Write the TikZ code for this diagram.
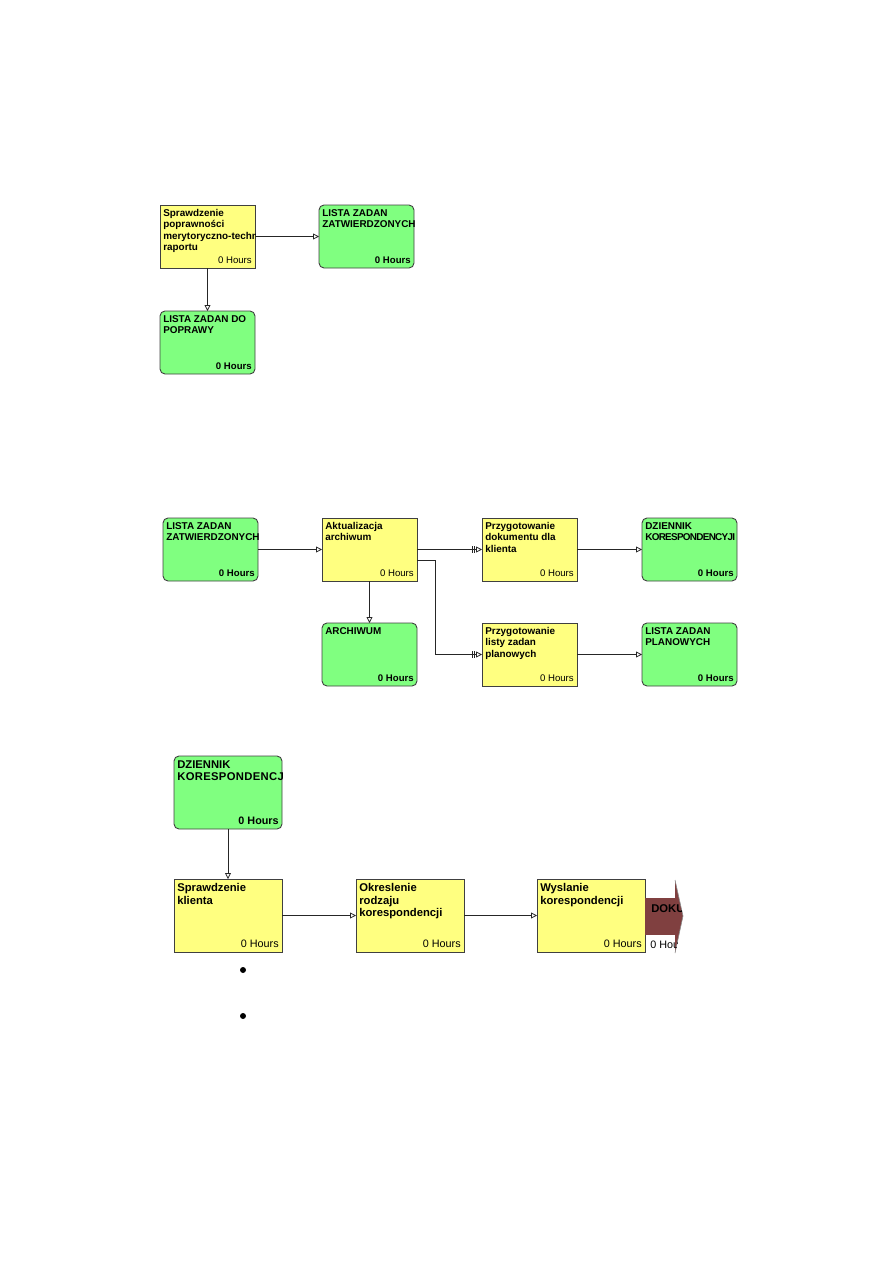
\documentclass[tikz,border=0pt]{standalone}
\usepackage{fontspec}
\setmainfont{Liberation Sans}
\usetikzlibrary{arrows.meta,calc}
\definecolor{TaskClr}{rgb}{1,1,0.5}
\definecolor{DataClr}{rgb}{0.5,1,0.5}
\definecolor{FrameClr}{rgb}{0.25,0.25,0.25}
\definecolor{OutClr}{rgb}{0.5,0.25,0.25}
\def\px{0.6667pt}

\newcommand\DrawTask[5]{%
  \node[#2] (#1) at (#3) {};
  \begin{scope}
    \clip (#1.north west) rectangle (#1.south east);
    \node[TitleTxt] (#1T) at ([shift={(3,4)}]#1.north west) {#4};
    \node[HoursTxt] (#1H) at ([shift={(-3,-4)}]#1.south east) {#5};
  \end{scope}}

\begin{document}
\begin{tikzpicture}[x=\px,y=-\px,
  Task/.style={draw=FrameClr,line width=0.6pt,fill=TaskClr,anchor=north west,
    inner sep=0pt,outer sep=0pt,minimum width=95*\px,minimum height=63*\px},
  Data/.style={Task,fill=DataClr,rounded corners=5*\px},
  Big/.style={minimum width=108*\px,minimum height=73*\px},
  TitleTxt/.style={anchor=north west,inner sep=0pt,align=left,
    font=\bfseries\fontsize{6.6}{7.6}\selectfont},
  HoursTxt/.style={anchor=south east,inner sep=0pt,font=\fontsize{6.4}{7.6}\selectfont},
  Flow/.style={draw=black!85,line width=0.5pt,-{Triangle[open,length=4pt,width=4pt]}},
  Split/.style={Flow,-{Bar[width=4.5pt,sep=1.2pt]Bar[width=4.5pt,sep=0.6pt]Triangle[open,length=4pt,width=4pt]}}]

\useasboundingbox (0,0) rectangle (893,1263);

\DrawTask{SprRap}{Task}{160,205}{Sprawdzenie\\poprawności\\merytoryczno-technicznej\\raportu}{0 Hours}
\DrawTask{ListZatA}{Data}{319,205}{LISTA ZADAN\\ZATWIERDZONYCH}{\textbf{0 Hours}}
\DrawTask{ListPop}{Data}{160,311}{LISTA ZADAN DO\\POPRAWY}{\textbf{0 Hours}}

\draw[Flow] (SprRap) -- (ListZatA);
\draw[Flow] (SprRap) -- (ListPop);

\DrawTask{ListZatB}{Data}{163,518}{LISTA ZADAN\\ZATWIERDZONYCH}{\textbf{0 Hours}}
\DrawTask{AktArch}{Task}{322,518}{Aktualizacja\\archiwum}{0 Hours}
\DrawTask{PrzDok}{Task}{482,518}{Przygotowanie\\dokumentu dla\\klienta}{0 Hours}
\DrawTask{DzKorA}{Data}{642,518}{DZIENNIK\\{\addfontfeature{LetterSpace=-7}KORESPONDENCYJI}}{\textbf{0 Hours}}
\DrawTask{Arch}{Data}{322,623}{ARCHIWUM}{\textbf{0 Hours}}
\DrawTask{PrzList}{Task}{482,623}{Przygotowanie\\listy zadan\\planowych}{0 Hours}
\DrawTask{ListPlan}{Data}{642,623}{LISTA ZADAN\\PLANOWYCH}{\textbf{0 Hours}}

\draw[Flow] (ListZatB) -- (AktArch);
\draw[Split] (AktArch) -- (PrzDok);
\draw[Split] ([yshift=-11*\px]AktArch.east) -- ++(18,0) |- (PrzList.west);
\draw[Flow] (AktArch) -- (Arch);
\draw[Flow] (PrzDok) -- (DzKorA);
\draw[Flow] (PrzList) -- (ListPlan);

\begin{scope}[Task/.append style={Big},
  TitleTxt/.append style={font=\bfseries\fontsize{7.5}{8.5}\selectfont},
  HoursTxt/.append style={font=\fontsize{7.2}{8.5}\selectfont}]
\DrawTask{DzKorB}{Data}{174,756}{DZIENNIK\\{\addfontfeature{LetterSpace=3}KORESPONDENCJI}}{\textbf{0 Hours}}
\DrawTask{SprKl}{Task}{174,879}{Sprawdzenie\\klienta}{0 Hours}
\DrawTask{OkrRodz}{Task}{356,879}{Okreslenie\\rodzaju\\korespondencji}{0 Hours}
\DrawTask{WysKor}{Task}{537,879}{Wyslanie\\korespondencji}{0 Hours}
\end{scope}

\draw[Flow] (DzKorB) -- (SprKl);
\draw[Flow] (SprKl) -- (OkrRodz);
\draw[Flow] (OkrRodz) -- (WysKor);

\fill[OutClr] (WysKor.east |- 0,898) rectangle (676,935);
\filldraw[fill=OutClr,draw=black!45,line width=0.4pt] (675,880) -- (683,916) -- (675,953);
\begin{scope}
  \clip (WysKor.north east) -- (675,879) -- (683,916) -- (675,953) -- (WysKor.south east) -- cycle;
  \node[anchor=base west,inner sep=0pt,font=\bfseries\fontsize{7.5}{8.5}\selectfont]
    (DokT) at (651,912) {DOKUMENT};
  \node[anchor=base west,inner sep=0pt,font=\fontsize{7.2}{8.5}\selectfont]
    (DokH) at (650,948) {0 Hours};
\end{scope}

\fill (243,970) circle[radius=3];
\fill (243,1016) circle[radius=3];

\end{tikzpicture}
\end{document}
